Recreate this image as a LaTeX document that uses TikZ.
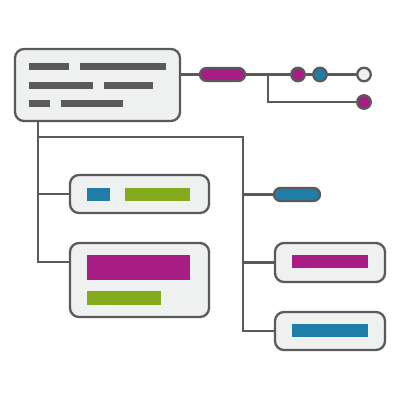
\documentclass[tikz,border=0pt]{standalone}
\usepackage{tikz}
\definecolor{ink}{HTML}{5A5A5A}
\definecolor{paper}{HTML}{EFF1F1}
\definecolor{plum}{HTML}{A71D83}
\definecolor{sea}{HTML}{1F7EA8}
\definecolor{leaf}{HTML}{84AA1E}
\tikzset{
  card/.style={draw=ink,fill=paper,line width=2.3pt,rounded corners=9pt,inner sep=0pt},
  pill/.style={draw=ink,line width=2.3pt,rounded corners=6.5pt,inner sep=0pt,minimum height=13pt},
  dot/.style={draw=ink,line width=2.3pt,circle,inner sep=0pt,minimum size=13.5pt},
  wire/.style={draw=ink,line width=2.2pt}
}
\begin{document}
\begin{tikzpicture}[x=1pt,y=-1pt,line cap=round]
\useasboundingbox (0,0) rectangle (400,400);
\node[card,minimum width=165pt,minimum height=72pt] (main) at (97.5,85) {};
\node[pill,fill=plum,minimum width=45pt] (tag) at (222.5,74.5) {};
\node[dot,fill=plum] (d1) at (298,74.5) {};
\node[dot,fill=sea] (d2) at (320,74.5) {};
\node[dot,fill=paper] (d3) at (364,74.5) {};
\node[dot,fill=plum] (d4) at (364,102) {};
\node[card,minimum width=139pt,minimum height=38pt] (left1) at (139.5,194) {};
\node[card,minimum width=139pt,minimum height=74pt] (left2) at (139.5,280) {};
\node[pill,fill=sea,minimum width=46pt] (tag2) at (297,194.5) {};
\node[card,minimum width=110pt,minimum height=39pt] (right1) at (330,262.5) {};
\node[card,minimum width=110pt,minimum height=38pt] (right2) at (330,331) {};
\coordinate (fork) at (268,74.5);
\coordinate (t1) at (38,137);
\coordinate (t2) at (243,137);
\coordinate (in2) at (70,262);
\draw[wire] (main.east |- tag.west) -- (tag.west);
\draw[wire] (tag.east) -- (d1.west);
\draw[wire] (d1.east) -- (d2.west);
\draw[wire] (d2.east) -- (d3.west);
\draw[wire] (fork) |- (d4.west);
\draw[wire] (main.south -| t1) |- (in2);
\draw[wire] (t1 |- left1.west) -- (left1.west);
\draw[wire] (t1) -- (t2) |- (right2.west);
\draw[wire] (t2 |- tag2.west) -- (tag2.west);
\draw[wire] (t2 |- right1.west) -- (right1.west);
\fill[ink] (29,63) rectangle (69,70);
\fill[ink] (80,63) rectangle (166,70);
\fill[ink] (29,82) rectangle (93,88.5);
\fill[ink] (104,82) rectangle (153,88.5);
\fill[ink] (29,100) rectangle (50,107);
\fill[ink] (61,100) rectangle (123,107);
\fill[sea] (87,188) rectangle (110,201);
\fill[leaf] (125,188) rectangle (190,201);
\fill[plum] (87,255) rectangle (190,280);
\fill[leaf] (87,291) rectangle (161,305);
\fill[plum] (292,255) rectangle (368,268);
\fill[sea] (292,324) rectangle (368,337);
\end{tikzpicture}
\end{document}
